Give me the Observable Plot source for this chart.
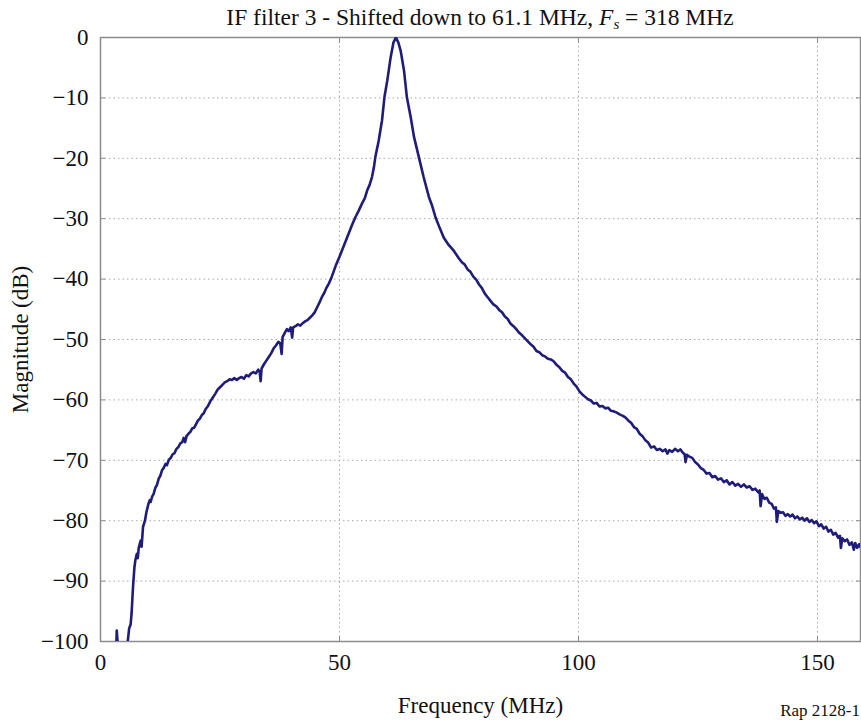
<!DOCTYPE html>
<html><head><meta charset="utf-8">
<script src="https://cdn.jsdelivr.net/npm/d3@7"></script>
<script src="https://cdn.jsdelivr.net/npm/@observablehq/plot@0.6"></script>
<style>
body{margin:0;background:#fff;font-family:"Liberation Serif","Times New Roman",serif;color:#111;}
#wrap{position:relative;width:861px;height:722px;overflow:hidden;}
#title{height:26px;margin-left:100px;width:760px;text-align:center;font-size:23.5px;line-height:34px;white-space:nowrap;}
#title sub{font-size:15px;vertical-align:-4px;line-height:0;}
#caption{position:absolute;right:1px;bottom:3px;font-size:17px;line-height:17px;}
#chart svg, #chart svg text{font-family:"Liberation Serif","Times New Roman",serif !important;}
</style></head><body>
<div id="wrap">
<div id="title">IF filter 3 - Shifted down to 61.1 MHz, <i>F<sub>s</sub></i> = 318 MHz</div>
<div id="chart"></div>
<div id="caption">Rap 2128-1</div>
</div>
<script>
const xTicks = [0, 50, 100, 150];
const yTicks = [-100, -90, -80, -70, -60, -50, -40, -30, -20, -10, 0];
const xLabel = "Frequency (MHz)";
const yLabel = "Magnitude (dB)";

const freq = [3.2,3.4,3.7,5.4,5.7,6.0,6.3,6.5,6.8,7.1,7.3,7.6,7.8,8.0,8.4,8.6,8.9,9.3,9.6,
10.0,10.3,10.5,10.8,11.1,11.5,11.8,12.2,12.5,12.9,13.2,13.6,13.9,14.3,14.7,15.1,15.5,15.9,16.3,16.7,17.1,17.4,17.7,18.0,18.4,18.8,19.2,19.6,
20.0,20.4,20.8,21.2,21.6,22.0,22.5,23.0,23.5,24.0,24.5,25.0,25.5,26.0,26.5,27.0,27.5,28.0,28.5,29.0,29.5,30.0,30.5,31.0,31.5,32.0,32.5,33.0,33.3,33.5,33.7,
34.2,34.7,35.2,35.7,36.2,36.7,37.2,37.6,37.9,38.1,38.5,39.0,39.4,39.8,40.1,40.3,40.8,41.3,41.8,42.3,42.8,43.3,43.8,44.3,44.8,45.3,45.8,46.3,46.8,47.3,47.8,48.3,
49.2,50.0,50.5,51.2,51.9,52.6,53.3,54.0,54.7,55.3,55.8,56.3,56.8,57.2,57.5,58.2,58.9,59.4,60,60.7,61.3,61.8,62.3,62.8,63.5,64.1,64.9,65.6,66.6,67.6,68.7,69.4,70.1,71.0,71.8,72.8,73.9,
75.0,75.6,76.2,76.8,77.4,78.0,78.6,79.2,79.8,80.4,81.0,81.6,82.2,82.8,83.4,84.0,84.6,85.2,85.8,86.4,87.0,87.6,88.2,88.8,89.4,90.0,90.6,91.2,91.8,92.4,93.0,93.6,94.2,94.8,95.4,96.0,96.6,97.2,97.8,98.4,99.0,99.6,
100.2,100.8,101.4,102.0,102.6,103.2,103.8,104.4,105.0,105.6,106.2,106.8,107.4,108.0,108.6,109.2,109.8,110.4,111.0,111.6,112.2,112.8,113.4,114.0,114.6,115.2,115.8,116.4,117.0,117.6,118.2,118.6,119.0,119.6,120.2,120.8,121.3,121.8,122.2,122.4,122.7,123.2,123.8,124.4,
125.0,125.6,126.2,126.8,127.4,128.0,128.6,129.2,129.8,130.4,131.0,131.6,132.2,132.8,133.4,134.0,134.6,135.2,135.8,136.4,137.0,137.6,137.9,138.1,138.4,138.9,139.4,139.9,140.4,140.9,141.3,141.5,141.8,142.3,142.8,143.3,143.8,144.3,144.8,145.3,145.8,146.3,146.8,147.3,147.8,148.3,148.8,149.3,149.8,
150.3,150.8,151.3,151.8,152.3,152.8,153.3,153.8,154.3,154.7,154.9,155.2,155.7,156.2,156.7,157.2,157.6,157.9,158.3,158.7,159.0];
const magnitude = [-103,-98.2,-101.5,-102,-100,-97.8,-97.2,-95.4,-91,-87.7,-86.5,-85.5,-86.2,-84.5,-83.3,-84.3,-81,-80,-78.6,
-77.3,-76.6,-76.9,-76.0,-75.6,-74.5,-74.1,-73.0,-72.6,-71.6,-71.3,-70.6,-70.8,-69.9,-69.6,-69.0,-68.8,-68.1,-67.8,-67.2,-67.0,-66.3,-67.0,-66.0,-65.6,-65.3,-64.7,-64.6,
-64.0,-63.4,-63.1,-62.5,-62.2,-61.5,-61.0,-60.2,-59.6,-59.0,-58.3,-57.9,-57.5,-57.1,-56.9,-56.6,-56.7,-56.4,-56.7,-56.4,-56.2,-56.5,-55.9,-56.1,-55.6,-55.4,-55.6,-55.0,-55.3,-56.9,-54.8,
-54.1,-53.5,-52.9,-52.3,-51.5,-51.0,-50.4,-50.6,-52.4,-49.6,-49.0,-48.3,-48.6,-48.0,-49.7,-48.0,-47.8,-47.5,-47.7,-47.3,-47.0,-46.8,-46.4,-46.0,-45.5,-44.7,-43.9,-43.0,-42.3,-41.4,-40.7,-39.8,
-37.8,-36.3,-35.3,-33.9,-32.5,-31.1,-29.8,-28.7,-27.5,-26.6,-25.3,-24.4,-23.1,-21.5,-19.8,-17.1,-13.7,-9.9,-7.1,-3.3,-0.8,0,-0.8,-2.2,-5.5,-9.9,-13.2,-16.5,-19.8,-23.1,-26.4,-27.9,-29.8,-31.6,-33.1,-34.3,-35.3,
-36.6,-37.2,-37.6,-38.4,-38.8,-39.6,-40.1,-40.9,-41.5,-42.4,-43.0,-43.6,-44.2,-44.5,-45.1,-45.5,-46.2,-46.6,-47.4,-47.8,-48.3,-48.9,-49.3,-49.8,-50.3,-50.8,-51.2,-51.9,-52.1,-52.6,-52.8,-53.2,-53.3,-53.6,-54.2,-54.6,-55.2,-55.5,-56.2,-56.6,-57.3,-57.8,
-58.6,-59.1,-59.5,-59.9,-60.1,-60.6,-60.5,-61.1,-61.0,-61.4,-61.3,-61.8,-61.9,-62.1,-62.4,-62.6,-62.9,-63.4,-63.8,-64.5,-64.8,-65.6,-66.0,-66.7,-67.1,-67.9,-67.7,-68.3,-68.1,-68.5,-68.2,-68.9,-68.3,-68.6,-68.1,-68.5,-68.2,-68.7,-69.0,-70.3,-69.1,-69.4,-69.6,-70.3,
-70.7,-71.3,-71.6,-72.2,-72.1,-72.8,-72.6,-73.2,-73.0,-73.6,-73.3,-74.0,-73.6,-74.2,-73.9,-74.4,-74.0,-74.5,-74.3,-74.9,-74.7,-75.3,-75.0,-77.6,-75.6,-76.4,-76.2,-77.0,-77.2,-78.0,-77.8,-80.2,-78.4,-78.7,-78.6,-79.2,-78.9,-79.3,-79.0,-79.6,-79.3,-79.8,-79.5,-80.0,-79.6,-80.2,-79.9,-80.4,-80.1,
-80.9,-80.6,-81.3,-81.0,-81.8,-81.5,-82.3,-82.0,-82.8,-82.5,-84.5,-82.9,-83.4,-83.1,-84.0,-83.6,-84.8,-83.7,-84.5,-83.9,-84.4];

const data = freq.map((f, i) => ({f, m: magnitude[i]}));
const axisStroke = "#8c8c8c";
const gridStyle = {stroke: "#a8a8a8", strokeOpacity: 1, strokeDasharray: "1.5,3"};

const chart = Plot.plot({
  width: 861, height: 696,
  marginLeft: 100, marginRight: 1, marginTop: 11, marginBottom: 81,
  style: {fontFamily: "'Liberation Serif', 'Times New Roman', serif", fontSize: "23px", color: "#111", background: "#fff", overflow: "visible"},
  x: {domain: [0, 159]},
  y: {domain: [-100, 0]},
  marks: [
    Plot.gridX(xTicks, gridStyle),
    Plot.gridY(yTicks, gridStyle),
    Plot.frame({stroke: axisStroke, strokeWidth: 1.5}),
    Plot.axisX(xTicks, {anchor: "bottom", tickSize: -5, tickPadding: 17, stroke: axisStroke, label: xLabel, labelAnchor: "center", labelArrow: "none", labelOffset: 71}),
    Plot.axisX(xTicks, {anchor: "top", tickSize: -5, stroke: axisStroke, tickFormat: () => "", label: null}),
    Plot.axisY(yTicks, {anchor: "left", tickSize: -5, tickPadding: 17, stroke: axisStroke, label: yLabel, labelAnchor: "center", labelArrow: "none", labelOffset: 89}),
    Plot.axisY(yTicks, {anchor: "right", tickSize: -5, stroke: axisStroke, tickFormat: () => "", label: null}),
    Plot.line(data, {x: "f", y: "m", stroke: "#1f1c7a", strokeWidth: 2.6, clip: true})
  ]
});
document.getElementById("chart").appendChild(chart);
</script>
</body></html>
